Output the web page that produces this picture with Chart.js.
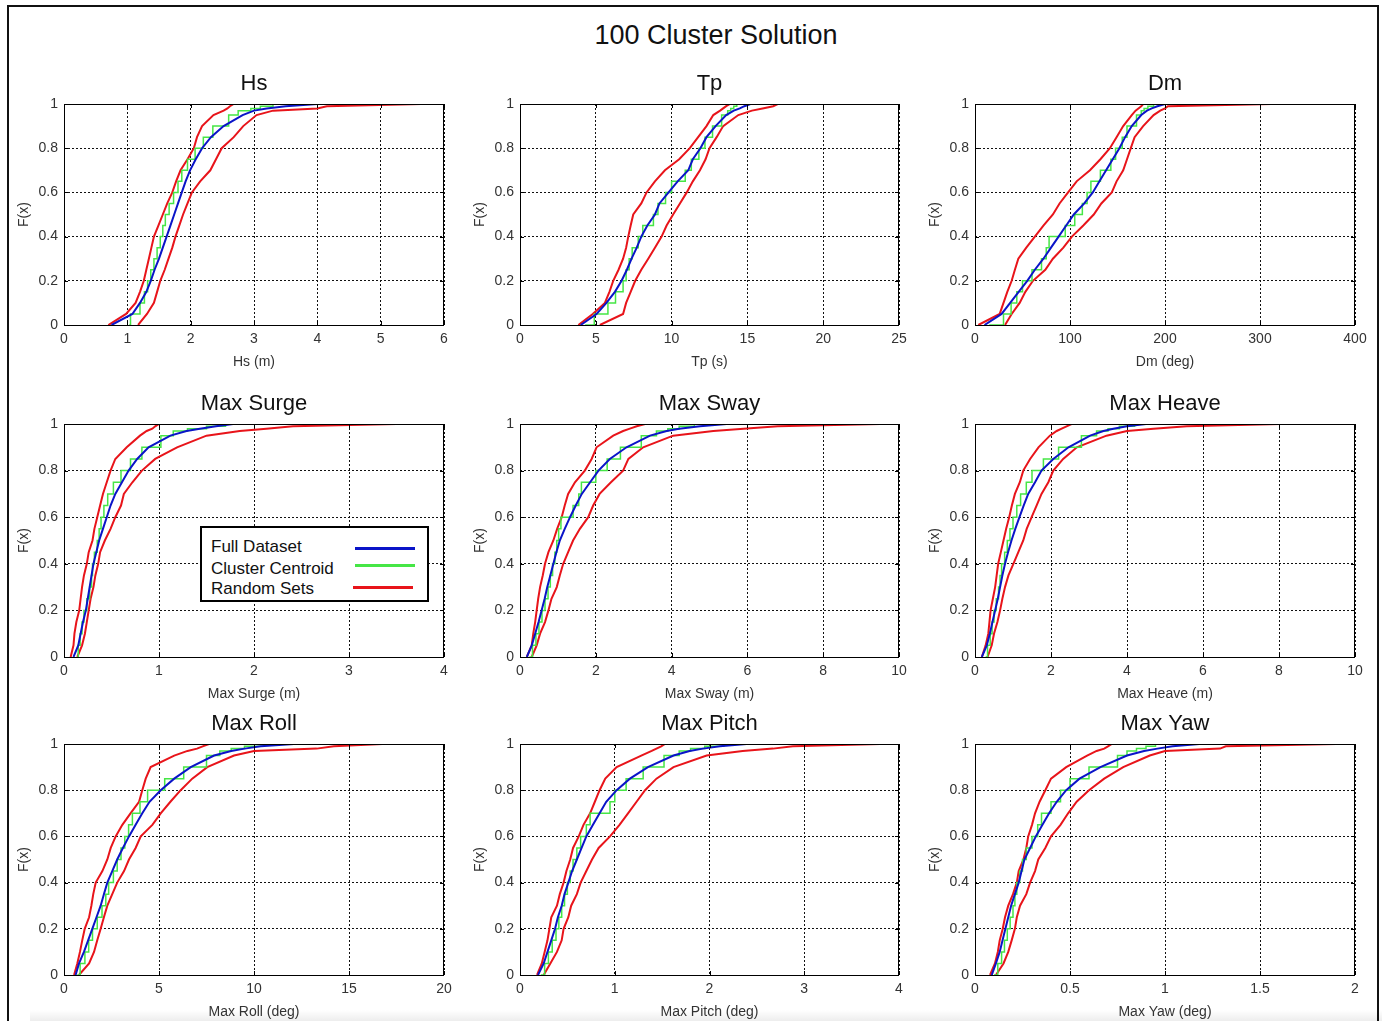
<!DOCTYPE html>
<html>
<head>
<meta charset="utf-8">
<script src="https://cdn.jsdelivr.net/npm/chart.js@4.4.1/dist/chart.umd.min.js"></script>
<style>
html,body{margin:0;padding:0;background:#fff;width:1382px;height:1021px;overflow:hidden;font-family:'Liberation Sans',Arial,Helvetica,sans-serif;}
#frame{position:absolute;left:7px;top:5px;width:1372px;height:1040px;border:2px solid #111;border-bottom:none;box-sizing:border-box;}
#shadow{position:absolute;left:30px;right:0;top:1010px;height:11px;background:linear-gradient(to bottom,rgba(0,0,0,0),rgba(0,0,0,0.07));}
#mainTitle{position:absolute;top:22px;left:0;width:1432px;text-align:center;font-size:27px;line-height:27px;color:#111;}
.panel{position:absolute;}
#legend{position:absolute;left:200px;top:526px;width:229px;height:76px;border:2px solid #000;background:#fff;box-sizing:border-box;}
#legend .txt{position:absolute;left:9px;font-size:17px;line-height:17px;color:#111;white-space:nowrap;}
#legend .ln{position:absolute;height:3px;width:60px;}
</style>
</head>
<body>
<div id="frame"></div>
<div id="shadow"></div>
<div id="mainTitle">100 Cluster Solution</div>
<div id="charts"></div>
<div id="legend"></div>
<script>
// ---------------- data ----------------
const levels = [0, 0.05, 0.1, 0.15, 0.2, 0.25, 0.3, 0.35, 0.4, 0.45, 0.5, 0.55, 0.6, 0.65, 0.7, 0.75, 0.8, 0.85, 0.9, 0.95, 0.97, 0.98, 0.99, 1];

const panelTitles = ['Hs', 'Tp', 'Dm', 'Max Surge', 'Max Sway', 'Max Heave', 'Max Roll', 'Max Pitch', 'Max Yaw'];
const xAxisLabels = ['Hs (m)', 'Tp (s)', 'Dm (deg)', 'Max Surge (m)', 'Max Sway (m)', 'Max Heave (m)', 'Max Roll (deg)', 'Max Pitch (deg)', 'Max Yaw (deg)'];
const yAxisLabel = 'F(x)';
const xMax = [6, 25, 400, 4, 10, 10, 20, 4, 2];
const xStep = [1, 5, 100, 1, 2, 2, 5, 1, 0.5];
const yTicks = [0, 0.2, 0.4, 0.6, 0.8, 1];
const fullMax = [4.0, 25, 350, 3.65, 10, 9.8, 17, 3.9, 1.99];

const seriesNames = ['Full Dataset', 'Cluster Centroid', 'Random Sets'];

const hsFull = [0.75, 1.08, 1.2, 1.3, 1.37, 1.43, 1.5, 1.56, 1.62, 1.68, 1.74, 1.8, 1.86, 1.92, 1.99, 2.08, 2.18, 2.32, 2.52, 2.82, 3.0, 3.2, 3.5, 4.0];
const hsCent = [1.03, 1.05, 1.2, 1.27, 1.32, 1.37, 1.42, 1.47, 1.52, 1.56, 1.6, 1.66, 1.73, 1.8, 1.86, 1.95, 2.07, 2.2, 2.35, 2.6, 2.75, 2.95, 3.1, 3.3];
const hsRandA = [0.7, 0.98, 1.13, 1.2, 1.26, 1.3, 1.34, 1.38, 1.42, 1.49, 1.56, 1.63, 1.71, 1.77, 1.84, 1.95, 2.05, 2.1, 2.18, 2.36, 2.52, 2.58, 2.62, 2.68];
const hsRandB = [1.17, 1.31, 1.42, 1.47, 1.52, 1.59, 1.65, 1.71, 1.76, 1.82, 1.88, 1.95, 2.02, 2.15, 2.31, 2.4, 2.49, 2.68, 2.83, 3.04, 3.3, 4.0, 4.15, 5.64];

const tpFull = [4.0, 5.05, 5.7, 6.26, 6.7, 7.05, 7.36, 7.7, 8.0, 8.4, 8.9, 9.2, 9.8, 10.4, 11.1, 11.4, 11.9, 12.3, 12.9, 13.6, 14.1, 14.5, 14.8, 15.2];
const tpCent = [4.3, 4.9, 5.8, 6.3, 6.8, 7.0, 7.2, 7.4, 7.8, 8.1, 8.8, 9.1, 9.6, 10.0, 10.9, 11.3, 11.8, 12.2, 12.7, 13.3, 13.7, 13.9, 14.1, 14.3];
const tpRandA = [3.85, 4.8, 5.6, 5.9, 6.15, 6.5, 6.8, 7.0, 7.14, 7.3, 7.47, 8.0, 8.35, 8.9, 9.56, 10.5, 11.2, 11.75, 12.3, 12.75, 13.2, 13.4, 13.6, 13.85];
const tpRandB = [5.27, 6.8, 7.0, 7.3, 7.6, 8.0, 8.46, 8.9, 9.34, 9.67, 10.1, 10.55, 11.0, 11.4, 11.87, 12.24, 12.5, 12.97, 13.4, 14.4, 15.3, 16.0, 16.7, 17.0];

const dmFull = [10, 28, 37, 46, 55, 63, 72, 80, 88, 96, 104, 115, 124, 131, 138, 145, 152, 158, 165, 175, 181, 186, 192, 200];
const dmCent = [15, 30, 38, 44, 50, 60, 70, 75, 78, 95, 105, 113, 118, 122, 132, 143, 148, 155, 160, 170, 175, 178, 182, 188];
const dmRandA = [3.5, 26, 30, 34, 38.6, 42, 45.6, 54, 63, 72, 82, 89, 98, 107, 121, 132, 142, 149, 156, 165, 169, 172, 175, 177];
const dmRandB = [31.6, 38.6, 47, 53, 61, 74, 82, 93, 102, 114, 125, 133, 144, 149, 156, 160, 164, 168, 177, 188, 195, 200, 203, 312];

const surgeFull = [0.1, 0.15, 0.175, 0.2, 0.23, 0.25, 0.27, 0.29, 0.31, 0.34, 0.37, 0.41, 0.45, 0.49, 0.54, 0.61, 0.68, 0.77, 0.89, 1.12, 1.29, 1.43, 1.6, 1.78];
const surgeCent = [0.14, 0.15, 0.17, 0.19, 0.21, 0.24, 0.27, 0.29, 0.3, 0.32, 0.35, 0.37, 0.39, 0.42, 0.46, 0.52, 0.6, 0.7, 0.82, 1.02, 1.15, 1.3, 1.5, 1.7];
const surgeRandA = [0.07, 0.1, 0.11, 0.13, 0.16, 0.175, 0.19, 0.21, 0.24, 0.26, 0.3, 0.32, 0.35, 0.38, 0.41, 0.45, 0.49, 0.54, 0.66, 0.8, 0.87, 0.93, 0.96, 1.0];
const surgeRandB = [0.14, 0.19, 0.22, 0.24, 0.26, 0.28, 0.31, 0.33, 0.36, 0.38, 0.43, 0.49, 0.54, 0.6, 0.63, 0.72, 0.82, 0.96, 1.19, 1.5, 1.85, 2.13, 2.41, 3.5];

const swayFull = [0.18, 0.31, 0.4, 0.49, 0.57, 0.65, 0.72, 0.8, 0.88, 0.96, 1.05, 1.18, 1.32, 1.47, 1.63, 1.85, 2.07, 2.37, 2.81, 3.43, 3.87, 4.2, 4.75, 5.45];
const swayCent = [0.25, 0.33, 0.42, 0.5, 0.58, 0.66, 0.74, 0.8, 0.86, 0.92, 0.97, 1.02, 1.08, 1.4, 1.55, 1.62, 2.0, 2.3, 2.65, 3.2, 3.6, 3.9, 4.2, 4.6];
const swayRandA = [0.18, 0.31, 0.35, 0.4, 0.44, 0.48, 0.53, 0.6, 0.66, 0.75, 0.88, 0.98, 1.1, 1.18, 1.27, 1.45, 1.71, 1.89, 2.02, 2.46, 2.72, 2.9, 3.08, 3.3];
const swayRandB = [0.31, 0.44, 0.53, 0.66, 0.75, 0.83, 0.97, 1.05, 1.14, 1.27, 1.4, 1.58, 1.8, 1.93, 2.1, 2.4, 2.72, 2.86, 3.25, 4.04, 5.1, 5.9, 6.8, 9.5];

const heaveFull = [0.18, 0.31, 0.39, 0.46, 0.53, 0.6, 0.66, 0.72, 0.79, 0.87, 0.96, 1.06, 1.17, 1.28, 1.4, 1.58, 1.75, 2.06, 2.46, 3.03, 3.38, 3.64, 4.0, 4.5];
const heaveCent = [0.28, 0.33, 0.4, 0.45, 0.5, 0.56, 0.62, 0.66, 0.7, 0.78, 0.85, 0.92, 1.0, 1.1, 1.2, 1.35, 1.5, 1.8, 2.2, 2.8, 3.2, 3.5, 3.8, 4.2];
const heaveRandA = [0.18, 0.28, 0.35, 0.38, 0.41, 0.47, 0.53, 0.57, 0.61, 0.68, 0.75, 0.82, 0.9, 0.97, 1.05, 1.18, 1.27, 1.45, 1.67, 1.97, 2.15, 2.28, 2.41, 2.54];
const heaveRandB = [0.33, 0.44, 0.5, 0.59, 0.66, 0.72, 0.79, 0.88, 1.01, 1.14, 1.27, 1.36, 1.49, 1.62, 1.75, 1.93, 2.06, 2.32, 2.68, 3.46, 4.0, 4.7, 5.57, 8.03];

const rollFull = [0.61, 0.79, 1.05, 1.27, 1.49, 1.71, 1.93, 2.1, 2.28, 2.54, 2.8, 3.1, 3.42, 3.77, 4.12, 4.5, 5.09, 5.8, 6.67, 7.9, 8.8, 9.5, 10.35, 12.1];
const rollCent = [0.7, 0.85, 1.1, 1.3, 1.5, 1.75, 2.0, 2.2, 2.35, 2.6, 2.8, 3.0, 3.2, 3.4, 3.6, 4.0, 4.4, 5.3, 6.3, 7.5, 8.2, 8.8, 9.5, 10.5];
const rollRandA = [0.53, 0.7, 0.84, 0.96, 1.09, 1.32, 1.44, 1.54, 1.67, 2.02, 2.28, 2.46, 2.72, 3.07, 3.5, 3.95, 4.12, 4.3, 4.56, 5.8, 6.5, 7.0, 7.3, 7.63];
const rollRandB = [0.79, 1.32, 1.58, 1.75, 1.93, 2.1, 2.28, 2.54, 2.8, 3.16, 3.42, 3.77, 4.04, 4.65, 5.09, 5.6, 6.14, 6.75, 7.54, 8.95, 10.0, 13.3, 14.2, 16.75];

const pitchFull = [0.19, 0.25, 0.29, 0.33, 0.37, 0.4, 0.44, 0.47, 0.51, 0.55, 0.6, 0.65, 0.7, 0.77, 0.84, 0.91, 1.02, 1.16, 1.35, 1.62, 1.79, 1.93, 2.11, 2.39];
const pitchCent = [0.22, 0.26, 0.3, 0.34, 0.38, 0.41, 0.44, 0.47, 0.5, 0.53, 0.56, 0.6, 0.64, 0.7, 0.74, 0.95, 1.0, 1.12, 1.3, 1.52, 1.68, 1.8, 1.95, 2.15];
const pitchRandA = [0.18, 0.23, 0.26, 0.29, 0.31, 0.33, 0.39, 0.42, 0.46, 0.49, 0.53, 0.56, 0.62, 0.67, 0.74, 0.79, 0.84, 0.9, 1.02, 1.28, 1.39, 1.44, 1.49, 1.53];
const pitchRandB = [0.25, 0.32, 0.39, 0.44, 0.46, 0.51, 0.54, 0.6, 0.64, 0.7, 0.76, 0.83, 0.95, 1.05, 1.14, 1.23, 1.32, 1.44, 1.62, 1.97, 2.35, 2.67, 2.88, 3.8];

const yawFull = [0.088, 0.11, 0.13, 0.145, 0.16, 0.175, 0.19, 0.21, 0.23, 0.245, 0.26, 0.29, 0.32, 0.355, 0.39, 0.43, 0.48, 0.55, 0.66, 0.8, 0.89, 0.96, 1.04, 1.18];
const yawCent = [0.1, 0.12, 0.14, 0.155, 0.17, 0.185, 0.2, 0.21, 0.22, 0.235, 0.25, 0.27, 0.3, 0.33, 0.35, 0.4, 0.45, 0.5, 0.6, 0.75, 0.8, 0.85, 0.9, 0.95];
const yawRandA = [0.079, 0.105, 0.12, 0.13, 0.146, 0.158, 0.175, 0.2, 0.22, 0.23, 0.255, 0.27, 0.28, 0.3, 0.316, 0.34, 0.37, 0.4, 0.48, 0.59, 0.64, 0.68, 0.7, 0.72];
const yawRandB = [0.11, 0.15, 0.175, 0.193, 0.21, 0.22, 0.237, 0.27, 0.29, 0.316, 0.333, 0.37, 0.4, 0.45, 0.49, 0.535, 0.6, 0.68, 0.78, 0.92, 1.0, 1.29, 1.32, 1.9];

const fullSeries = [hsFull, tpFull, dmFull, surgeFull, swayFull, heaveFull, rollFull, pitchFull, yawFull];
const centSeries = [hsCent, tpCent, dmCent, surgeCent, swayCent, heaveCent, rollCent, pitchCent, yawCent];
const randASeries = [hsRandA, tpRandA, dmRandA, surgeRandA, swayRandA, heaveRandA, rollRandA, pitchRandA, yawRandA];
const randBSeries = [hsRandB, tpRandB, dmRandB, surgeRandB, swayRandB, heaveRandB, rollRandB, pitchRandB, yawRandB];

// ---------------- layout & style ----------------
const COLORS = { full: '#0a14c8', cent: '#46e646', rand: '#e8141a' };
const FONT = "'Liberation Sans', Arial, Helvetica, sans-serif";
const plotL = [64, 520, 975], plotR = [444, 899, 1355];
const plotT = [104, 424, 744], plotB = [325, 657, 975];
const Y_AXIS_W = 48, X_AXIS_H = 46, PAD_T = 36, PAD_R = 18;

Chart.defaults.font.family = FONT;

const framePlugin = {
  id: 'mframe',
  afterDatasetsDraw(chart, args, opts) {
    const { ctx, chartArea: a } = chart;
    const xs = chart.scales.x, ys = chart.scales.y;
    ctx.save();
    ctx.strokeStyle = '#000';
    ctx.lineWidth = 1;
    ctx.setLineDash([]);
    ctx.beginPath();
    xs.ticks.forEach(t => {
      const px = Math.round(xs.getPixelForValue(t.value)) + 0.5;
      ctx.moveTo(px, a.bottom); ctx.lineTo(px, a.bottom - 4);
      ctx.moveTo(px, a.top); ctx.lineTo(px, a.top + 4);
    });
    ys.ticks.forEach(t => {
      const py = Math.round(ys.getPixelForValue(t.value)) + 0.5;
      ctx.moveTo(a.left, py); ctx.lineTo(a.left + 4, py);
      ctx.moveTo(a.right, py); ctx.lineTo(a.right - 4, py);
    });
    ctx.stroke();
    ctx.strokeRect(Math.round(a.left) + 0.5, Math.round(a.top) + 0.5, Math.round(a.right - a.left) - 1, Math.round(a.bottom - a.top));
    ctx.fillStyle = '#111';
    ctx.font = '22px ' + FONT;
    ctx.textAlign = 'center';
    ctx.textBaseline = 'alphabetic';
    ctx.fillText(opts.title, (a.left + a.right) / 2, a.top - 14);
    ctx.restore();
  }
};

function toPoints(xs) { return levels.map((f, i) => ({ x: xs[i], y: f })); }

const holder = document.getElementById('charts');
for (let i = 0; i < 9; i++) {
  const r = Math.floor(i / 3), c = i % 3;
  const div = document.createElement('div');
  div.className = 'panel';
  div.style.left = (plotL[c] - Y_AXIS_W) + 'px';
  div.style.top = (plotT[r] - PAD_T) + 'px';
  div.style.width = (plotR[c] - plotL[c] + Y_AXIS_W + PAD_R) + 'px';
  div.style.height = (plotB[r] - plotT[r] + PAD_T + X_AXIS_H) + 'px';
  const cv = document.createElement('canvas');
  div.appendChild(cv);
  holder.appendChild(div);

  const fullPts = toPoints(fullSeries[i]);
  fullPts.push({ x: fullMax[i], y: 1 });

  new Chart(cv, {
    type: 'line',
    data: {
      datasets: [
        { label: seriesNames[0], data: fullPts, borderColor: COLORS.full, borderWidth: 2, pointRadius: 0, order: 0 },
        { label: seriesNames[1], data: toPoints(centSeries[i]), borderColor: COLORS.cent, borderWidth: 1.5, pointRadius: 0, stepped: 'before', order: 1 },
        { label: seriesNames[2], data: toPoints(randASeries[i]), borderColor: COLORS.rand, borderWidth: 2, pointRadius: 0, order: 2 },
        { label: seriesNames[2] + ' (2)', data: toPoints(randBSeries[i]), borderColor: COLORS.rand, borderWidth: 2, pointRadius: 0, order: 3 }
      ]
    },
    options: {
      responsive: true,
      maintainAspectRatio: false,
      animation: false,
      events: [],
      layout: { padding: { left: 0, right: PAD_R, top: PAD_T, bottom: 0 } },
      plugins: { legend: { display: false }, tooltip: { enabled: false }, mframe: { title: panelTitles[i] } },
      scales: {
        x: {
          type: 'linear', min: 0, max: xMax[i],
          afterFit(s) { s.height = X_AXIS_H; },
          ticks: { stepSize: xStep[i], padding: 6, color: '#333', font: { size: 14 },
                   maxRotation: 0, autoSkip: false,
                   callback: v => String(Number(v.toFixed(3))) },
          grid: { color: '#111', lineWidth: 1, drawTicks: false },
          border: { display: false, dash: [2, 2] },
          title: { display: true, text: xAxisLabels[i], color: '#333', font: { size: 14 }, padding: 0 }
        },
        y: {
          type: 'linear', min: 0, max: 1,
          afterFit(s) { s.width = Y_AXIS_W; },
          afterBuildTicks(s) { s.ticks = yTicks.map(v => ({ value: v })); },
          ticks: { padding: 6, color: '#333', font: { size: 14 },
                   callback: v => String(Number(v.toFixed(2))) },
          grid: { color: '#111', lineWidth: 1, drawTicks: false },
          border: { display: false, dash: [2, 2] },
          title: { display: true, text: yAxisLabel, color: '#333', font: { size: 14 }, padding: 0 }
        }
      }
    },
    plugins: [framePlugin]
  });
}

// legend (MATLAB style: text left, line sample right)
const legend = document.getElementById('legend');
const legendColors = [COLORS.full, COLORS.cent, COLORS.rand];
const legTextTop = [9.6, 31.6, 51.6];
const legLineTop = [18.5, 35.5, 57.5];
const legLineLeft = [153, 153, 151];
seriesNames.forEach((name, k) => {
  const t = document.createElement('div');
  t.className = 'txt';
  t.style.top = legTextTop[k] + 'px';
  t.textContent = name;
  legend.appendChild(t);
  const l = document.createElement('div');
  l.className = 'ln';
  l.style.top = legLineTop[k] + 'px';
  l.style.left = legLineLeft[k] + 'px';
  l.style.background = legendColors[k];
  legend.appendChild(l);
});
</script>
</body>
</html>
